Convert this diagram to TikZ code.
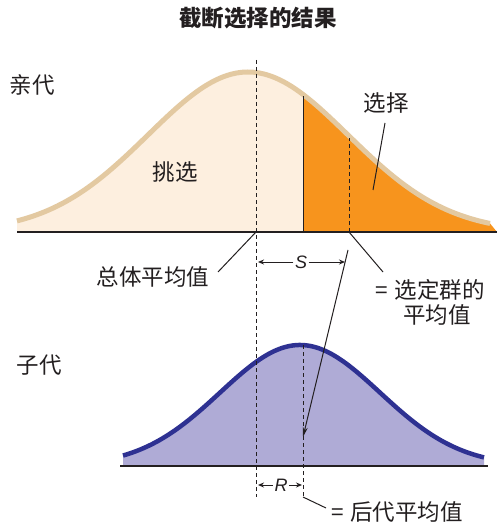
\documentclass[tikz,border=0pt]{standalone}
\usepackage{fontspec}
\setmainfont{Noto Sans CJK SC}
\newfontfamily\latf{Liberation Sans}
\usetikzlibrary{arrows.meta}
\definecolor{tancol}{HTML}{E3C9A1}
\definecolor{creamcol}{HTML}{FDEFDF}
\definecolor{orngcol}{HTML}{F7941D}
\definecolor{navycol}{HTML}{2E3192}
\definecolor{lavcol}{HTML}{AFABD6}
\definecolor{inkcol}{HTML}{231F20}
\begin{document}
\begin{tikzpicture}[x=1bp,y=-1bp,
  font=\fontsize{22.5bp}{26bp}\selectfont,
  lbl/.style={inner sep=0pt, text=inkcol},
  axisline/.style={draw=inkcol, line width=1.3bp},
  leader/.style={draw=inkcol, line width=1bp},
  meanline/.style={draw=inkcol, line width=1bp, dash pattern=on 4bp off 3bp},
  dimarrow/.style={draw=inkcol, line width=1bp, -{Stealth[length=6bp,width=5bp]}},
  letter/.style={inner sep=1.5bp, text=inkcol, font=\latf\itshape\fontsize{18bp}{21bp}\selectfont}]
\useasboundingbox (0,0) rectangle (501,525);
\fill[white] (0,0) rectangle (501,525);
% parent distribution
\fill[creamcol] (17,232) -- plot[domain=17:303, samples=80] (\x, {232-160*exp(-0.5*((\x-248)/100)^2)}) -- (303,232) -- cycle;
\fill[orngcol] (303,232) -- plot[domain=303:490, samples=60] (\x, {232-160*exp(-0.5*((\x-248)/100)^2)}) -- (497,232) -- cycle;
\draw[tancol, line width=5bp] plot[domain=17:490, samples=120] (\x, {232-160*exp(-0.5*((\x-248)/100)^2)});
\draw[leader] (303,232) -- (303,{232-160*exp(-0.5*((303-248)/100)^2)+2});
\draw[meanline] (349,232) -- (349,138);
\draw[axisline] (17,232) -- (497,232);
% offspring distribution
\fill[lavcol] (123,466) -- plot[domain=123:484, samples=120] (\x, {466-121*exp(-0.5*((\x-300)/80)^2)}) -- (484,466) -- cycle;
\draw[navycol, line width=4.5bp] plot[domain=123:484, samples=120] (\x, {466-121*exp(-0.5*((\x-300)/80)^2)});
\draw[axisline] (120,466) -- (488,466);
% mean lines
\coordinate (pm top) at (256,60);
\coordinate (pm bot) at (256,497);
\draw[meanline] (pm top) -- (pm bot);
\coordinate (om top) at (303,345);
\coordinate (om bot) at (303,497);
\draw[meanline] (om top) -- (om bot);
% labels
\node[lbl, font=\bfseries\fontsize{22.5bp}{26bp}\selectfont] (title) at (258,18) {截断选择的结果};
\node[lbl] (parent) at (32,85) {亲代};
\node[lbl] (child) at (39,365) {子代};
\node[lbl] (pick) at (175,172) {挑选};
\node[lbl] (sel) at (386,103) {选择};
\node[lbl] (popmean) at (153,277) {总体平均值};
\node[lbl] (selmean1) at (430,290) {=\hspace{0.3em}选定群的};
\node[lbl] (selmean2) at (437,315) {平均值};
\node[lbl] (offmean) at (397,512) {=\hspace{0.3em}后代平均值};
% leaders
\coordinate (pm axis) at (256,232);
\coordinate (pm end) at (218,272);
\draw[leader] (pm axis) -- (pm end);
\coordinate (sm axis) at (349,232);
\coordinate (sm end) at (383,272);
\draw[leader] (sm axis) -- (sm end);
\coordinate (sel a) at (385,123);
\coordinate (sel b) at (373,190);
\draw[leader] (sel a) -- (sel b);
\coordinate (om end) at (326,508);
\draw[leader] (om bot) -- (om end);
% response arrow
\coordinate (resp a) at (348,250);
\coordinate (resp b) at (303,437);
\draw[leader, -{Stealth[length=10bp,width=5bp]}] (resp a) -- (resp b);
% S and R
\node[letter] (S) at (301,262) {S};
\coordinate (S l) at (258,262);
\coordinate (S r) at (345,262);
\draw[dimarrow] (S.west) -- (S l);
\draw[dimarrow] (S.east) -- (S r);
\node[letter] (R) at (281,485) {R};
\coordinate (R l) at (258,485);
\coordinate (R r) at (302,485);
\draw[dimarrow] (R.west) -- (R l);
\draw[dimarrow] (R.east) -- (R r);
\end{tikzpicture}
\end{document}
